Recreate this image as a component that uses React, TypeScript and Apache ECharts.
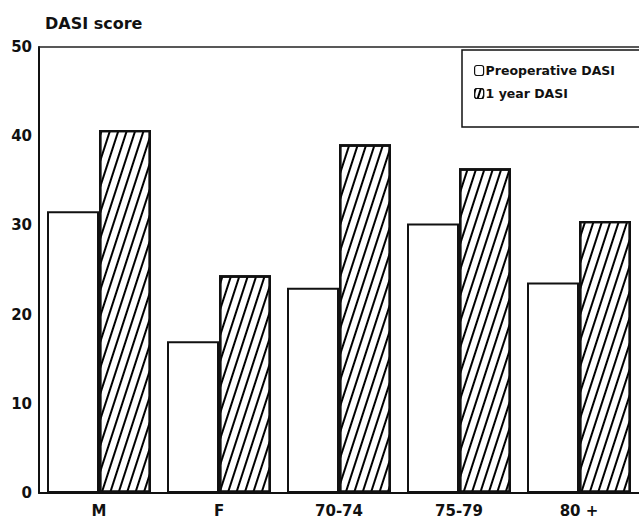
import React, { useEffect, useRef } from "react";
import * as echarts from "echarts";

const categories = ["M", "F", "70-74", "75-79", "80 +"];
const preoperative = [31.6, 17.0, 23.0, 30.2, 23.6];
const oneYear = [40.7, 24.4, 39.1, 36.4, 30.5];
const yTicks = [0, 10, 20, 30, 40, 50];

const FONT = "'DejaVu Sans', 'Liberation Sans', Arial, sans-serif";

export default function App() {
  const ref = useRef<HTMLDivElement>(null);
  useEffect(() => {
    document.body.style.margin = "0";
    if (!ref.current) return;
    const chart = echarts.init(ref.current, undefined, { renderer: "svg" });
    const hatch = {
      symbol: "rect",
      color: "#000",
      backgroundColor: "#fff",
      dashArrayX: [1, 0],
      dashArrayY: [1.7, 5.6],
      rotation: -0.4 * Math.PI,
      symbolSize: 1,
    };
    chart.setOption({
      animation: false,
      backgroundColor: "#fff",
      title: {
        text: "DASI score",
        left: 40,
        top: 10,
        textStyle: { fontFamily: FONT, fontSize: 16, fontWeight: "bold", color: "#111" },
      },
      legend: {
        orient: "vertical",
        left: 462,
        top: 50,
        width: 240,
        padding: [14, 80, 27, 12],
        borderColor: "#111",
        borderWidth: 1.5,
        borderRadius: 0,
        itemWidth: 9,
        itemHeight: 10,
        itemGap: 10,
        textStyle: { fontFamily: FONT, fontSize: 12.5, fontWeight: "bold", color: "#111", padding: [0, 0, 0, -3] },
        data: [
          { name: "Preoperative DASI", itemStyle: { color: "#fff", borderColor: "#111", borderWidth: 1.2 } },
          { name: "1 year DASI", itemStyle: { color: "#fff", borderColor: "#111", borderWidth: 1.2, decal: { ...hatch, dashArrayY: [1.3, 2.4] } } },
        ],
      },
      grid: { left: 39, width: 602, top: 47, bottom: 33, containLabel: false },
      xAxis: [
        {
          type: "category",
          data: categories,
          axisLine: { show: true, lineStyle: { color: "#111", width: 2 } },
          axisTick: { show: false },
          axisLabel: {
            fontFamily: FONT,
            fontSize: 15,
            fontWeight: "bold",
            color: "#111",
            margin: 10,
          },
        },
        {
          type: "category",
          position: "top",
          data: categories,
          axisLine: { show: true, lineStyle: { color: "#222", width: 1.5 } },
          axisTick: { show: false },
          axisLabel: { show: false },
        },
      ],
      yAxis: {
        type: "value",
        min: yTicks[0],
        max: yTicks[yTicks.length - 1],
        interval: 10,
        axisLine: { show: true, lineStyle: { color: "#111", width: 2 } },
        axisTick: { show: false },
        splitLine: { show: false },
        axisLabel: {
          fontFamily: FONT,
          fontSize: 15,
          fontWeight: "bold",
          color: "#111",
          margin: 7,
        },
      },
      series: [
        {
          name: "Preoperative DASI",
          type: "bar",
          data: preoperative,
          barWidth: 52,
          barGap: "0%",
          itemStyle: { color: "#fff", borderColor: "#111", borderWidth: 2 },
        },
        {
          name: "1 year DASI",
          type: "bar",
          data: oneYear,
          barWidth: 52,
          barGap: "0%",
          itemStyle: { color: "#fff", borderColor: "#111", borderWidth: 2.4, decal: hatch },
        },
      ],
    });
    return () => chart.dispose();
  }, []);
  return <div ref={ref} style={{ width: 639, height: 526 }} />;
}
